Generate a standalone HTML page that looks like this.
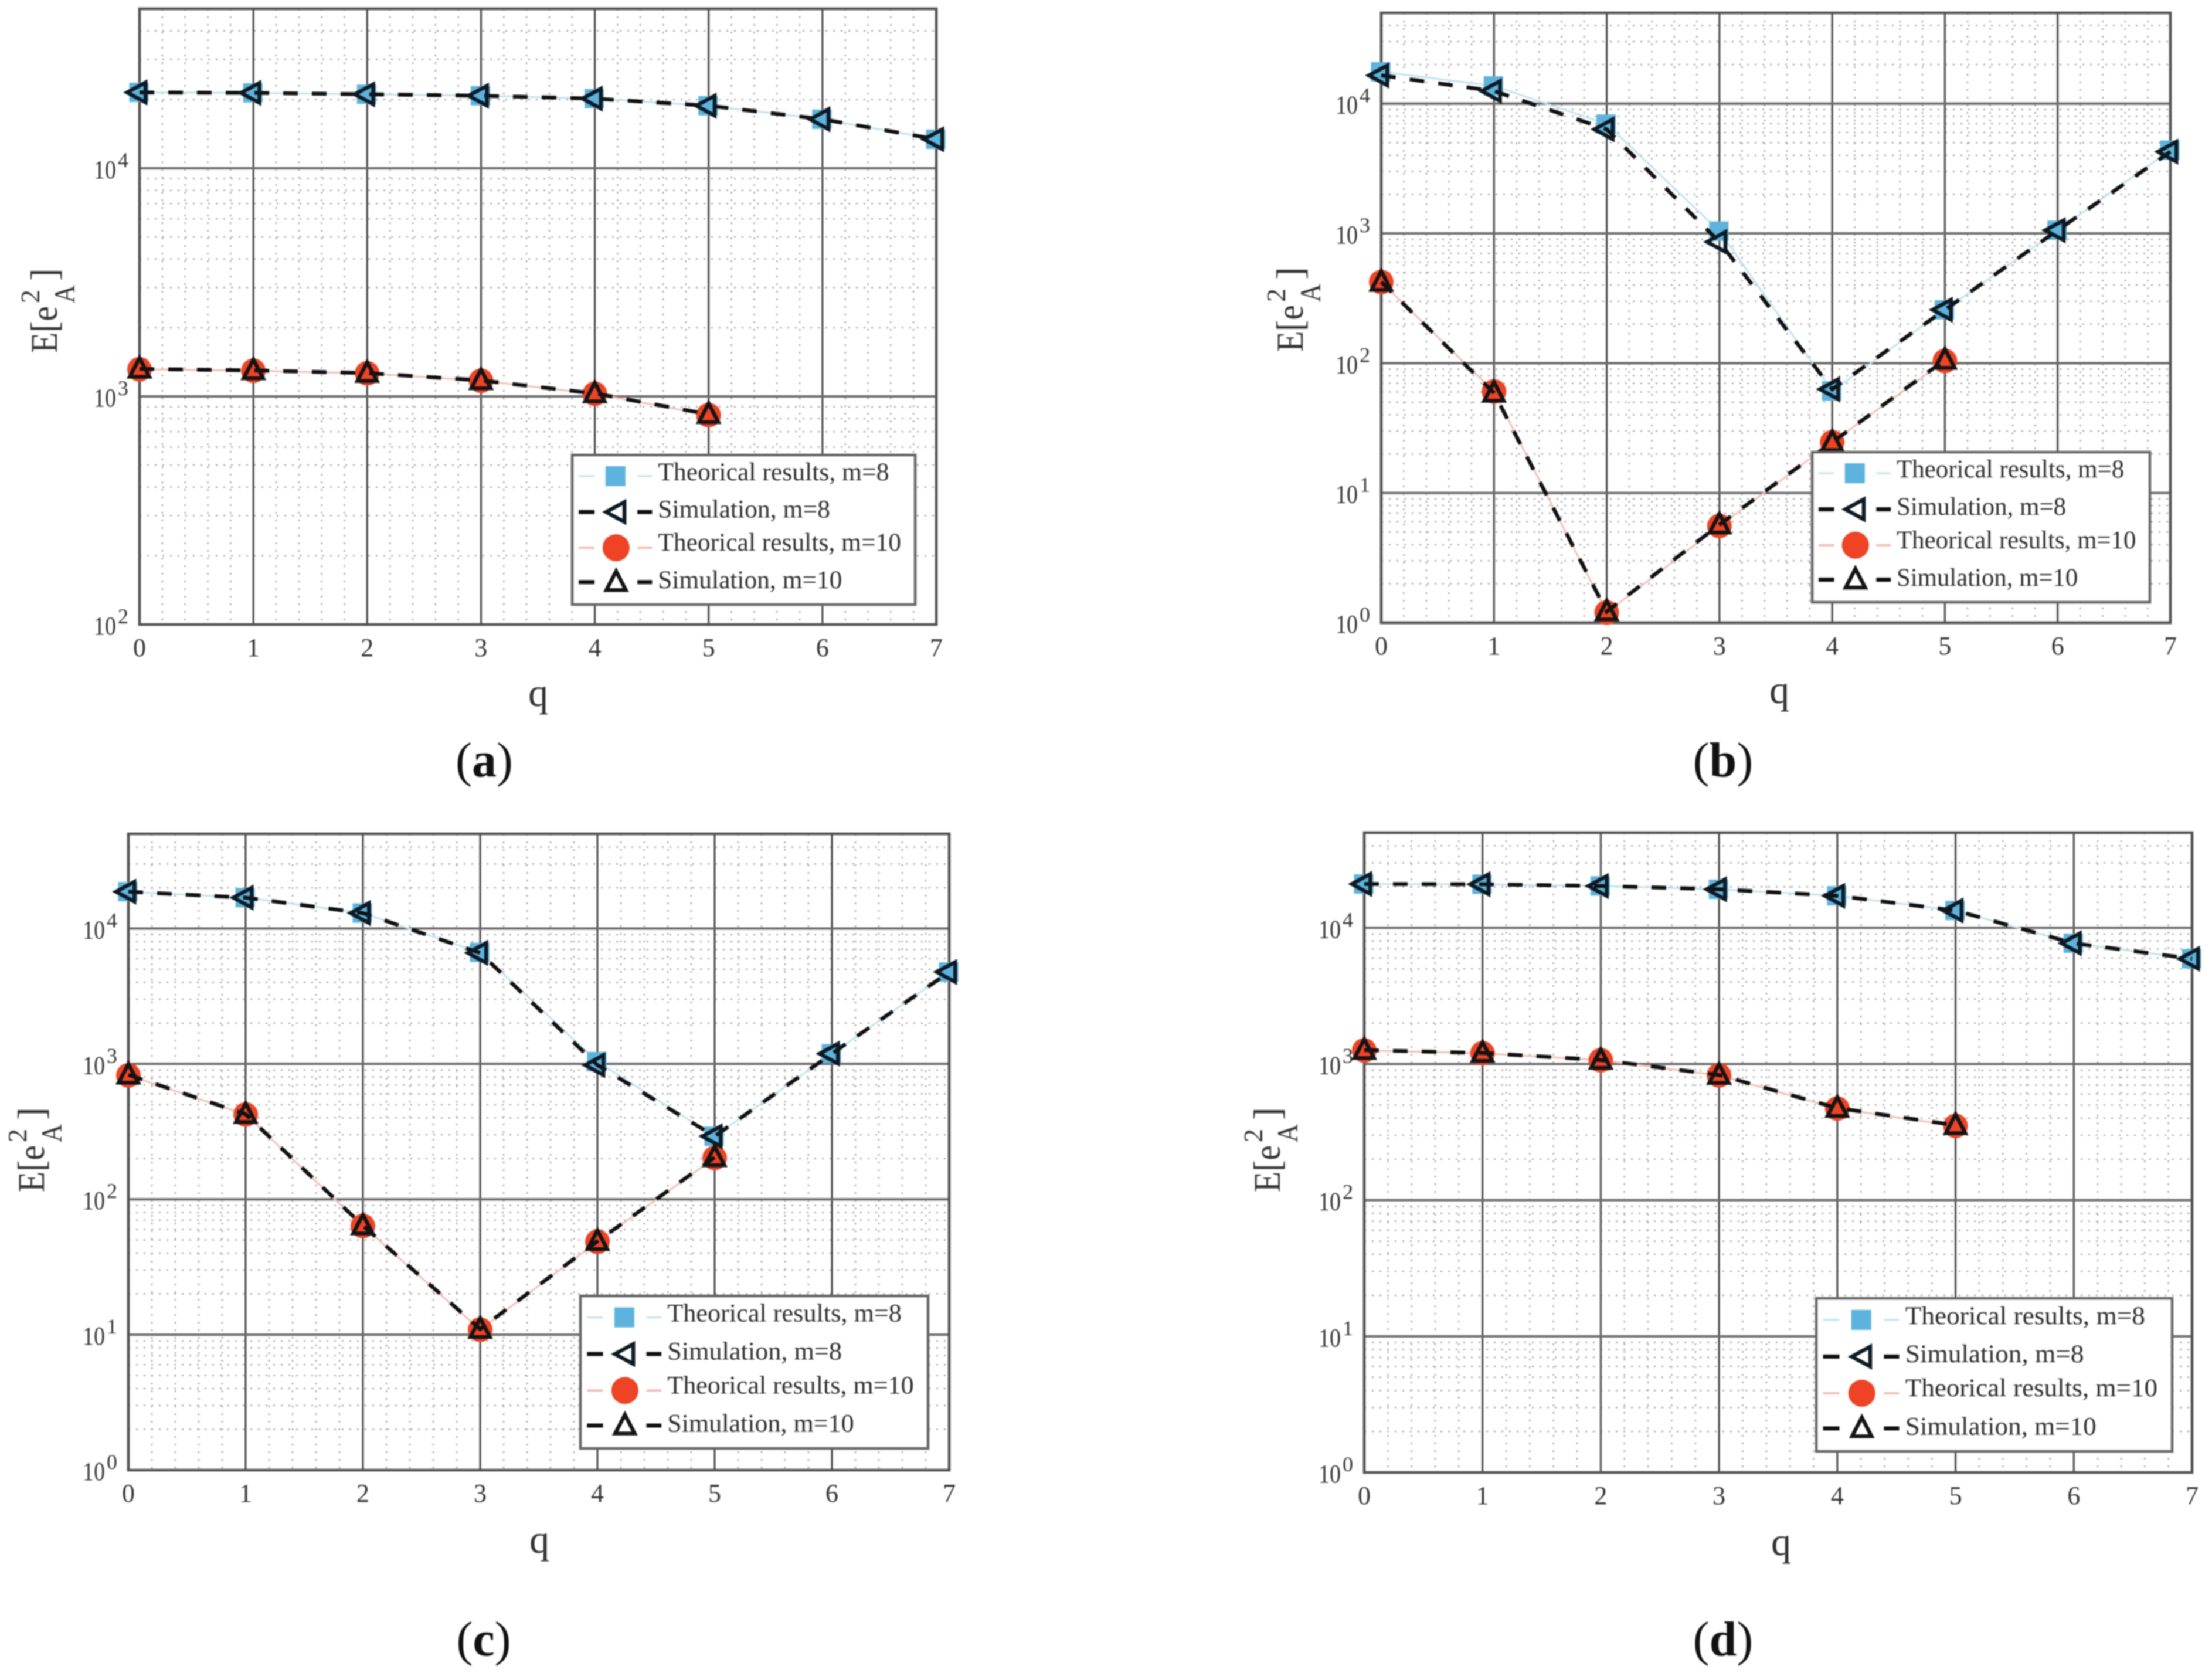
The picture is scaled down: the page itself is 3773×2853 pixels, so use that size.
<!DOCTYPE html>
<html lang="en">
<head>
<meta charset="utf-8">
<title>E[e_A^2] versus q: theoretical results and simulation</title>
<style>
html,body{margin:0;padding:0;background:#fff;}
#figure{display:block;width:3773px;height:2853px;filter:blur(1.1px);font-family:"Liberation Serif",serif;}
</style>
</head>
<body>
<svg id="figure" xmlns="http://www.w3.org/2000/svg" width="3773" height="2853" viewBox="0 0 3773 2853"></svg>
<script>
// Shared axis data
const qCategories = [0, 1, 2, 3, 4, 5, 6, 7];
const qCategoriesM10 = [0, 1, 2, 3, 4, 5];
const qTickLabels = ['0', '1', '2', '3', '4', '5', '6', '7'];
const yExponentsA = [2, 3, 4];
const yExponentsFull = [0, 1, 2, 3, 4];
const legendLabels = ['Theorical results, m=8', 'Simulation, m=8', 'Theorical results, m=10', 'Simulation, m=10'];

// Panel (a)
const aTheoryM8 = [21500, 21400, 21100, 20800, 20200, 18800, 16400, 13400];
const aSimM8 = [21500, 21400, 21100, 20800, 20200, 18800, 16400, 13400];
const aTheoryM10 = [1315, 1295, 1262, 1171, 1027, 828];
const aSimM10 = [1320, 1300, 1265, 1175, 1030, 835];

// Panel (b)
const bTheoryM8 = [17600, 13700, 6960, 1040, 61, 258, 1057, 4380];
const bSimM8 = [16500, 12500, 6340, 860, 63, 258, 1057, 4260];
const bTheoryM10 = [422, 60.5, 1.2, 5.57, 24.6, 104];
const bSimM10 = [422, 59, 1.22, 5.7, 24.6, 106];

// Panel (c)
const cTheoryM8 = [18700, 16900, 13000, 6660, 1040, 292, 1190, 4770];
const cSimM8 = [18700, 16900, 13000, 6600, 980, 292, 1190, 4770];
const cTheoryM10 = [823, 423, 63.5, 10.9, 48.6, 202];
const cSimM10 = [830, 425, 64, 11, 49, 204];

// Panel (d)
const dTheoryM8 = [21000, 20900, 20300, 19200, 17200, 13400, 7700, 5930];
const dSimM8 = [21000, 20900, 20300, 19200, 17200, 13400, 7700, 5930];
const dTheoryM10 = [1258, 1200, 1066, 825, 471, 351];
const dSimM10 = [1265, 1205, 1070, 830, 475, 355];

const yTopValue = 50000;
const SVGNS = 'http://www.w3.org/2000/svg';
const root = document.getElementById('figure');

function make(tag, parent, attrs, text) {
  const el = document.createElementNS(SVGNS, tag);
  for (const k in attrs) el.setAttribute(k, attrs[k]);
  if (text !== undefined) el.textContent = text;
  parent.appendChild(el);
  return el;
}

function label(parent, x, y, size, str, anchor, weight, fill) {
  return make('text', parent, {
    x: x, y: y, 'font-size': size, 'text-anchor': anchor || 'start',
    'font-weight': weight || 'normal', fill: fill || '#333',
    'font-family': '"Liberation Serif", serif'
  }, str);
}

function squareMark(parent, cx, cy, s) {
  return make('rect', parent, { x: cx - s / 2 - 1, y: cy - s / 2, width: s, height: s, fill: '#5cb4de' });
}
function circleMark(parent, cx, cy, r) {
  return make('circle', parent, { cx: cx, cy: cy, r: r, fill: '#ee4325' });
}
function leftTriangle(parent, cx, cy, s) {
  const pts = [[cx - s * 0.66, cy], [cx + s * 0.32, cy - s * 0.53], [cx + s * 0.32, cy + s * 0.53]];
  return make('polygon', parent, { points: pts.map(p => p.join(',')).join(' '), fill: 'none', stroke: '#0d1a24', 'stroke-width': 6.5, 'stroke-linejoin': 'miter' });
}
function upTriangle(parent, cx, cy, s) {
  const pts = [[cx, cy - s * 0.58], [cx - s * 0.52, cy + s * 0.42], [cx + s * 0.52, cy + s * 0.42]];
  return make('polygon', parent, { points: pts.map(p => p.join(',')).join(' '), fill: 'none', stroke: '#141414', 'stroke-width': 6.5, 'stroke-linejoin': 'miter' });
}

function drawPanel(cfg) {
  const panel = make('g', root, {});
  
  

  const yMinLog = cfg.exps[0];
  const yMaxLog = Math.log10(yTopValue);
  const xAxis = q => cfg.left + (cfg.right - cfg.left) * q / 7;
  const yAxis = v => cfg.bottom - (cfg.bottom - cfg.top) * (Math.log10(v) - yMinLog) / (yMaxLog - yMinLog);

  // minor vertical grid
  const minorX = make('g', panel, { stroke: '#aaaaaa', 'stroke-width': 2.6, 'stroke-dasharray': '3 10' });
  
  
  for (let i = 1; i < 35; i++) {
    if (i % 5 === 0) continue;
    make('line', minorX, { x1: xAxis(i / 5), x2: xAxis(i / 5), y1: cfg.top, y2: cfg.bottom });
  }
  // minor horizontal grid
  const minorY = make('g', panel, { stroke: '#aaaaaa', 'stroke-width': 2.6, 'stroke-dasharray': '3 10' });
  
  
  cfg.exps.forEach(e => {
    for (let k = 2; k <= 9; k++) {
      const v = k * Math.pow(10, e);
      if (v > yTopValue) continue;
      make('line', minorY, { x1: cfg.left, x2: cfg.right, y1: yAxis(v), y2: yAxis(v) });
    }
  });
  // major grid
  qCategories.forEach((q, i) => {
    const line = make('line', panel, { x1: xAxis(q), x2: xAxis(q), y1: cfg.top, y2: cfg.bottom, stroke: '#444', 'stroke-width': 3 });
    
    
    const tick = label(panel, xAxis(q), cfg.bottom + 54, 44, qTickLabels[i], 'middle');
    
    
  });
  cfg.exps.forEach(e => {
    const v = Math.pow(10, e);
    const line = make('line', panel, { x1: cfg.left, x2: cfg.right, y1: yAxis(v), y2: yAxis(v), stroke: '#6a6a6a', 'stroke-width': 4 });
    
    
    const tickBase = label(panel, cfg.left - 78, yAxis(v) + 17, 44, '10');
    tickBase.setAttribute('textLength', 38);
    tickBase.setAttribute('lengthAdjust', 'spacingAndGlyphs');
    
    
    const tickExp = label(panel, cfg.left - 37, yAxis(v) - 2, 36, String(e));
    
    
  });
  // frame
  const frame = make('rect', panel, { x: cfg.left, y: cfg.top, width: cfg.right - cfg.left, height: cfg.bottom - cfg.top, fill: 'none', stroke: '#505050', 'stroke-width': 4.5 });
  
  

  // series
  const toPoints = (qs, vals) => qs.map((q, i) => xAxis(q) + ',' + yAxis(vals[i])).join(' ');

  const lineT8 = make('polyline', panel, { points: toPoints(qCategories, cfg.t8), fill: 'none', stroke: '#bfe3f2', 'stroke-width': 3 });
  
  
  const lineT10 = make('polyline', panel, { points: toPoints(qCategoriesM10, cfg.t10), fill: 'none', stroke: '#f3bfb2', 'stroke-width': 3 });
  
  

  qCategories.forEach((q, i) => {
    const m = squareMark(panel, xAxis(q), yAxis(cfg.t8[i]), 33);
    
    
  });
  qCategoriesM10.forEach((q, i) => {
    const m = circleMark(panel, xAxis(q), yAxis(cfg.t10[i]), 21);
    
    
  });

  const lineS8 = make('polyline', panel, { points: toPoints(qCategories, cfg.s8), fill: 'none', stroke: '#101010', 'stroke-width': 6.5, 'stroke-dasharray': '25 24' });
  
  
  const lineS10 = make('polyline', panel, { points: toPoints(qCategoriesM10, cfg.s10), fill: 'none', stroke: '#101010', 'stroke-width': 6.5, 'stroke-dasharray': '25 24' });
  
  

  qCategories.forEach((q, i) => {
    const m = leftTriangle(panel, xAxis(q), yAxis(cfg.s8[i]), 32);
    
    
  });
  qCategoriesM10.forEach((q, i) => {
    const m = upTriangle(panel, xAxis(q), yAxis(cfg.s10[i]), 32);
    
    
  });

  // axis titles
  const xTitle = label(panel, cfg.qx, cfg.qy, 68, 'q', 'middle');
  
  

  const yTitle = make('g', panel, { transform: 'translate(' + cfg.lx + ',' + cfg.ly + ') rotate(-90)' });
  
  
  const yMain = label(yTitle, 0, 0, 65, 'E[e');
  yMain.setAttribute('textLength', 80);
  yMain.setAttribute('lengthAdjust', 'spacingAndGlyphs');
  label(yTitle, 85, -30, 46, '2');
  const ySub = label(yTitle, 85, 30, 50, 'A');
  ySub.setAttribute('textLength', 31);
  ySub.setAttribute('lengthAdjust', 'spacingAndGlyphs');
  label(yTitle, 123, 0, 65, ']');

  // caption
  const caption = make('text', panel, { x: cfg.capx, y: cfg.capy, 'font-size': 84, 'text-anchor': 'middle', fill: '#111', 'font-family': '"Liberation Serif", serif' });
  
  
  make('tspan', caption, {}, '(');
  make('tspan', caption, { 'font-weight': 'bold' }, cfg.id);
  make('tspan', caption, {}, ')');

  // legend
  const lg = make('g', panel, {});
  
  
  const lx = cfg.lg[0], ly = cfg.lg[1], lw = cfg.lg[2] - cfg.lg[0], lh = cfg.lg[3] - cfg.lg[1];
  const box = make('rect', lg, { x: lx, y: ly, width: lw, height: lh, fill: '#fff', stroke: '#666', 'stroke-width': 4.5 });
  
  
  const markerRow = [0.141, 0.381, 0.62, 0.85];
  const textRow = [0.168, 0.417, 0.64, 0.891];
  const textWidth = [0.674, 0.502, 0.709, 0.537];
  const lineColor = ['#bfe3f2', '#101010', '#f3bfb2', '#101010'];
  const lineWidth = [3, 7, 4, 7];
  legendLabels.forEach((txt, i) => {
    const entry = make('g', lg, {});
    
    
    const my = ly + lh * markerRow[i];
    make('line', entry, { x1: lx + lw * 0.019, x2: lx + lw * 0.065, y1: my, y2: my, stroke: lineColor[i], 'stroke-width': lineWidth[i] });
    make('line', entry, { x1: lx + lw * 0.19, x2: lx + lw * 0.233, y1: my, y2: my, stroke: lineColor[i], 'stroke-width': lineWidth[i] });
    const mx = lx + lw * 0.128;
    if (i === 0) squareMark(entry, mx, my, 34);
    if (i === 1) leftTriangle(entry, mx + 4, my, 32);
    if (i === 2) circleMark(entry, mx, my, 23);
    if (i === 3) upTriangle(entry, mx, my, 32);
    const t = label(entry, lx + lw * 0.25, ly + lh * textRow[i], 43, txt, 'start', 'normal', '#2e2e2e');
    t.setAttribute('textLength', lw * textWidth[i]);
    t.setAttribute('lengthAdjust', 'spacingAndGlyphs');
  });
}

drawPanel({ id: 'a', exps: yExponentsA, left: 238, right: 1597, top: 15, bottom: 1065,
  t8: aTheoryM8, s8: aSimM8, t10: aTheoryM10, s10: aSimM10,
  qx: 918, qy: 1204, lx: 97, ly: 602, capx: 826, capy: 1324, lg: [976, 776, 1561, 1031] });
drawPanel({ id: 'b', exps: yExponentsFull, left: 2356, right: 3702, top: 22, bottom: 1062,
  t8: bTheoryM8, s8: bSimM8, t10: bTheoryM10, s10: bSimM10,
  qx: 3035, qy: 1199, lx: 2222, ly: 600, capx: 2939, capy: 1324, lg: [3091, 771, 3667, 1027] });
drawPanel({ id: 'c', exps: yExponentsFull, left: 219, right: 1619, top: 1422, bottom: 2507,
  t8: cTheoryM8, s8: cSimM8, t10: cTheoryM10, s10: cSimM10,
  qx: 920, qy: 2648, lx: 75, ly: 2033, capx: 825, capy: 2823, lg: [990, 2210, 1583, 2470] });
drawPanel({ id: 'd', exps: yExponentsFull, left: 2327, right: 3739, top: 1420, bottom: 2511,
  t8: dTheoryM8, s8: dSimM8, t10: dTheoryM10, s10: dSimM10,
  qx: 3038, qy: 2652, lx: 2183, ly: 2033, capx: 2939, capy: 2823, lg: [3098, 2214, 3705, 2475] });
</script>
</body>
</html>
